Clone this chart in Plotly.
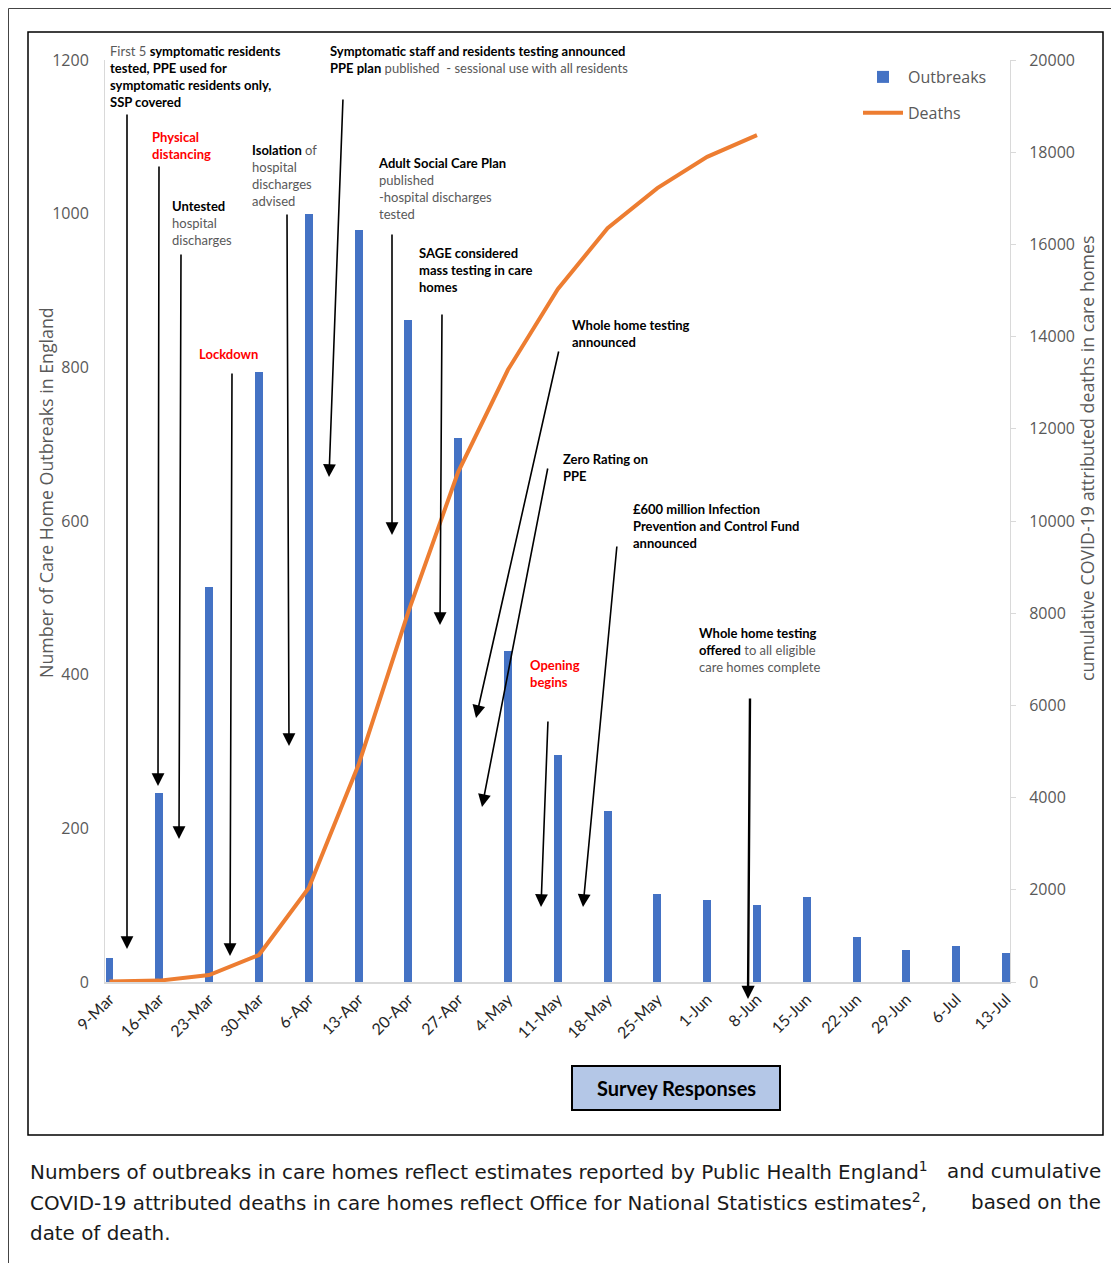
import plotly.graph_objects as go

weeks = ["9-Mar", "16-Mar", "23-Mar", "30-Mar", "6-Apr", "13-Apr", "20-Apr", "27-Apr",
         "4-May", "11-May", "18-May", "25-May", "1-Jun", "8-Jun", "15-Jun", "22-Jun",
         "29-Jun", "6-Jul", "13-Jul"]
outbreaks = [31, 246, 514, 794, 1000, 979, 862, 708, 431, 295, 223, 115, 107, 100, 111, 59, 42, 47, 38]
death_weeks = weeks[:14]
deaths = [10, 30, 150, 585, 2040, 4710, 8030, 11060, 13280, 15030, 16350, 17220, 17900, 18370]

left_ticks = [0, 200, 400, 600, 800, 1000, 1200]
right_ticks = [0, 2000, 4000, 6000, 8000, 10000, 12000, 14000, 16000, 18000, 20000]

# page body has an 8px margin, so the figure itself is 8px smaller
OFF = 8
W, H = 1119 - OFF, 1263 - OFF
L, R, T, B = 105, 1010, 60, 982  # plot area in page pixels


def PX(x):
    return (x - L) / (R - L)


def PY(y):
    return (B - y) / (B - T)


fig = go.Figure()
fig.add_trace(go.Bar(x=weeks, y=outbreaks, name="Outbreaks", marker_color="#4472c4",
                     marker_line_width=0, width=0.16, legendgroup="a"))
fig.add_trace(go.Scatter(x=death_weeks, y=deaths, name="Deaths", mode="lines",
                         line=dict(color="#ed7d31", width=4), yaxis="y2", legendgroup="b"))

ANN_FONT = "Lato"
GRAY = "#595959"
RED = "#ff0000"


def g(t):
    return f"<span style='color:{GRAY}'>{t}</span>"


texts = [
    (109, 42, g("First 5") + " <b>symptomatic residents</b><br><b>tested, PPE used for</b><br><b>symptomatic residents only,</b><br><b>SSP covered</b>", "black"),
    (151, 128, "<b>Physical</b><br><b>distancing</b>", RED),
    (171, 197, "<b>Untested</b><br>" + g("hospital") + "<br>" + g("discharges"), "black"),
    (198, 345, "<b>Lockdown</b>", RED),
    (251, 141, "<b>Isolation</b> " + g("of") + "<br>" + g("hospital") + "<br>" + g("discharges") + "<br>" + g("advised"), "black"),
    (329, 42, "<b>Symptomatic staff and residents testing announced</b><br><b>PPE plan</b> " + g("published  - sessional use with all residents"), "black"),
    (377, 154, "<b>Adult Social Care Plan</b><br>" + g("published") + "<br>" + g("-hospital discharges") + "<br>" + g("tested"), "black"),
    (418, 244, "<b>SAGE considered</b><br><b>mass testing in care</b><br><b>homes</b>", "black"),
    (571, 316, "<b>Whole home testing</b><br><b>announced</b>", "black"),
    (562, 450, "<b>Zero Rating on</b><br><b>PPE</b>", "black"),
    (632, 500, "<b>£600 million Infection</b><br><b>Prevention and Control Fund</b><br><b>announced</b>", "black"),
    (698, 624, "<b>Whole home testing</b><br><b>offered</b> " + g("to all eligible") + "<br>" + g("care homes complete"), "black"),
    (529, 656, "<b>Opening</b><br><b>begins</b>", RED),
]

annotations = []
for x, y, t, c in texts:
    annotations.append(dict(xref="paper", yref="paper", x=PX(x), y=PY(y), xanchor="left", yanchor="top",
                            text=t, showarrow=False, align="left", borderpad=0,
                            font=dict(family=ANN_FONT, size=13, color=c)))

# arrows: (tail x, tail y, head x, head y, width)
arrows = [
    (127, 113, 127, 949, 1.6),
    (159, 165, 158, 786, 1.6),
    (181, 253, 179, 839, 1.6),
    (232, 372, 230, 956, 1.6),
    (287, 213, 289, 746, 1.6),
    (343, 98, 329, 477, 1.6),
    (392, 233, 392, 535, 1.6),
    (442, 313, 440, 625, 1.6),
    (559, 350, 476, 718, 1.6),
    (548, 467, 482, 807, 1.6),
    (548, 720, 541, 907, 1.6),
    (617, 545, 583, 907, 1.6),
    (750, 697, 748, 999, 2.4),
]
for tx, ty, hx, hy, w in arrows:
    annotations.append(dict(xref="paper", yref="paper", x=PX(hx), y=PY(hy), ax=tx - hx, ay=ty - hy,
                            text="", showarrow=True, arrowhead=2, arrowsize=1.6 if w < 2 else 1.1,
                            arrowwidth=w, arrowcolor="black", standoff=0))

# axis titles
annotations.append(dict(xref="paper", yref="paper", x=PX(46), y=PY(493), xanchor="center", yanchor="middle",
                        text="Number of Care Home Outbreaks in England",
                        textangle=-90, showarrow=False, font=dict(family="Open Sans", size=17.8, color=GRAY)))
annotations.append(dict(xref="paper", yref="paper", x=PX(1087), y=PY(459), xanchor="center", yanchor="middle",
                        text="cumulative COVID-19 attributed deaths in care homes",
                        textangle=-90, showarrow=False, font=dict(family="Open Sans", size=17.8, color=GRAY)))

# survey responses box label
annotations.append(dict(xref="paper", yref="paper", x=PX(676), y=PY(1088), xanchor="center", yanchor="middle",
                        text="<b>Survey Responses</b>",
                        showarrow=False, font=dict(family="Lato", size=20, color="black")))

# caption (justified lines approximated by a left part and a right part)
CAP_FONT = dict(family="DejaVu Sans", size=19.9, color="#1a1a1a")
cap_left = [
    (1171, "Numbers of outbreaks in care homes reflect estimates reported by Public Health England<sup>1</sup>"),
    (1202, "COVID-19 attributed deaths in care homes reflect Office for National Statistics estimates<sup>2</sup>,"),
    (1233, "date of death."),
]
cap_right = [
    (1171, "and cumulative"),
    (1202, "based on the"),
]
for y, t in cap_left:
    annotations.append(dict(xref="paper", yref="paper", x=PX(28), y=PY(y), xanchor="left", yanchor="middle",
                            text=t, showarrow=False, font=CAP_FONT))
for y, t in cap_right:
    annotations.append(dict(xref="paper", yref="paper", x=PX(1103), y=PY(y), xanchor="right", yanchor="middle",
                            text=t, showarrow=False, font=CAP_FONT))

shapes = [
    dict(type="line", xref="paper", yref="paper", x0=PX(8.5), x1=PX(1125), y0=PY(8.5), y1=PY(8.5),
         line=dict(color="#444444", width=1)),
    dict(type="line", xref="paper", yref="paper", x0=PX(8.5), x1=PX(8.5), y0=PY(8.5), y1=PY(1270),
         line=dict(color="#444444", width=1)),
    dict(type="rect", xref="paper", yref="paper", x0=PX(28), x1=PX(1103), y0=PY(32), y1=PY(1135),
         line=dict(color="black", width=1.5)),
    dict(type="rect", xref="paper", yref="paper", x0=PX(572), x1=PX(780), y0=PY(1066), y1=PY(1110),
         line=dict(color="black", width=2), fillcolor="#b4c7e7"),
]

fig.update_layout(
    width=W, height=H,
    margin=dict(l=L - OFF, r=W - (R - OFF), t=T - OFF, b=H - (B - OFF), pad=0),
    paper_bgcolor="white", plot_bgcolor="white",
    bargap=0,
    showlegend=True,
    legend=dict(x=PX(858), y=PY(60), xanchor="left", yanchor="top", tracegroupgap=12,
                font=dict(family="Open Sans", size=16, color=GRAY), itemwidth=40, bgcolor="rgba(0,0,0,0)"),
    xaxis=dict(type="category", range=[-0.09, 18.08], tickangle=-45, showgrid=False,
               showline=True, linecolor="#d9d9d9", linewidth=1.5, ticks="",
               tickfont=dict(family="Lato", size=16, color="#262626")),
    yaxis=dict(range=[0, 1200], tickvals=left_ticks, showgrid=False, zeroline=False,
               showline=True, linecolor="#d9d9d9", ticks="", ticklabelstandoff=12,
               tickfont=dict(family="Open Sans", size=16, color=GRAY)),
    yaxis2=dict(range=[0, 20000], tickvals=right_ticks, tickformat="d", overlaying="y", side="right",
                showgrid=False, zeroline=False, showline=True, linecolor="#d9d9d9", ticks="outside",
                ticklen=5, tickcolor="#d9d9d9", ticklabelstandoff=10,
                tickfont=dict(family="Open Sans", size=16, color=GRAY)),
    annotations=annotations,
    shapes=shapes,
)

fig.write_html("out.html")
